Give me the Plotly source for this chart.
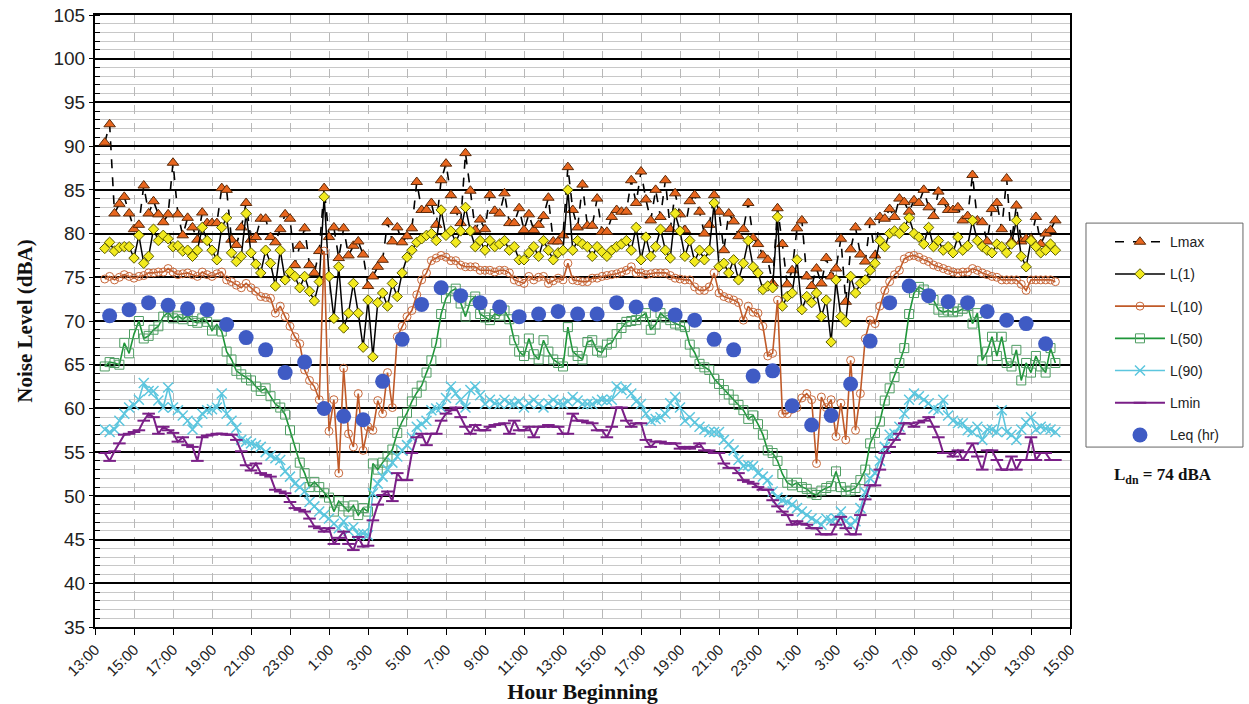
import plotly.graph_objects as go

# ---------------- data ----------------
# time axis: hours after 13:00 of the first day, 15-minute readings
FIRST_READING_H = 0.5
STEP_H = 0.25
LEQ_FIRST_H = 0.75

tick_labels = ["13:00", "15:00", "17:00", "19:00", "21:00", "23:00", "1:00", "3:00",
               "5:00", "7:00", "9:00", "11:00", "13:00", "15:00", "17:00", "19:00",
               "21:00", "23:00", "1:00", "3:00", "5:00", "7:00", "9:00", "11:00",
               "13:00", "15:00"]

lmax = [90.4, 92.5,
        82.3, 83.4, 84.2, 82.3, 80.5, 81.0, 85.5, 82.3, 83.7, 82.2, 81.3, 82.2,
        88.1, 82.2, 79.8, 81.8, 80.7, 79.3, 82.4, 81.2, 81.2, 81.2, 85.2, 85.0,
        79.3, 78.7, 80.7, 83.5, 79.3, 79.6, 81.7, 81.7, 79.6, 79.0, 80.5, 82.2,
        81.7, 76.4, 78.6, 80.6, 76.4, 75.5, 78.0, 85.2, 79.6, 80.7, 77.2, 80.6,
        77.5, 78.6, 79.1, 77.6, 74.0, 75.1, 76.2, 77.0, 81.3, 79.1, 80.7, 79.0,
        79.7, 80.6, 85.9, 82.7, 82.7, 83.5, 81.0, 86.1, 88.0, 84.4, 82.6, 81.2,
        89.2, 84.9, 80.4, 81.6, 80.5, 84.4, 82.6, 82.3, 84.6, 81.2, 81.2, 82.9,
        80.4, 82.2, 80.4, 81.0, 82.0, 84.1, 79.1, 79.1, 79.8, 87.6, 82.7, 80.7,
        85.6, 80.9, 80.9, 84.0, 80.2, 80.2, 81.9, 82.7, 82.5, 82.5, 86.1, 83.5,
        87.1, 83.9, 81.5, 85.0, 81.9, 86.1, 80.5, 84.6, 82.2, 80.4, 83.7, 84.4,
        82.5, 80.0, 81.0, 84.4, 82.5, 78.1, 82.3, 81.4, 79.7, 80.5, 83.5, 79.5,
        78.8, 77.5, 77.0, 74.3, 82.9, 78.8, 74.2, 75.8, 80.6, 81.5, 75.1, 74.0,
        76.0, 74.3, 77.2, 75.1, 76.0, 79.4, 72.2, 78.2, 80.7, 77.6, 76.8, 81.3,
        77.5, 81.9, 81.7, 82.8, 81.9, 84.0, 83.6, 82.5, 83.8, 83.5, 85.0, 83.0,
        82.0, 84.8, 83.6, 82.7, 82.7, 83.0, 81.5, 82.0, 86.7, 81.5, 81.3, 79.1,
        82.8, 83.5, 80.5, 86.3, 79.1, 83.2, 79.1, 79.4, 79.4, 81.9, 78.8, 80.0,
        80.4, 81.5]

l1 = [78.3, 79.0,
      78.0, 78.4, 78.5, 78.5, 77.2, 79.8, 76.6, 77.4, 80.5, 79.2, 79.8, 79.4,
      78.5, 78.6, 78.0, 78.1, 77.4, 78.1, 80.7, 79.2, 78.1, 77.0, 80.7, 81.8,
      77.8, 76.8, 77.4, 82.3, 77.8, 76.5, 75.5, 78.1, 76.6, 74.0, 78.1, 74.7,
      75.6, 75.1, 73.8, 75.1, 73.4, 72.3, 74.5, 84.2, 75.1, 70.3, 76.2, 69.2,
      70.9, 74.3, 70.9, 67.0, 72.4, 65.9, 72.1, 73.2, 71.7, 74.3, 72.8, 75.5,
      77.3, 78.1, 79.0, 79.4, 79.8, 80.0, 79.2, 82.7, 79.8, 80.3, 79.0, 80.3,
      83.0, 80.3, 78.5, 79.2, 78.1, 79.2, 78.5, 78.8, 79.2, 78.1, 78.5, 77.0,
      77.0, 77.8, 78.5, 77.4, 79.2, 78.1, 77.0, 77.8, 78.1, 85.0, 78.1, 79.2,
      78.8, 78.5, 77.4, 78.5, 77.9, 77.4, 78.1, 78.5, 78.8, 79.2, 78.1, 80.7,
      77.0, 79.6, 77.4, 78.5, 80.5, 78.1, 77.2, 82.3, 80.3, 77.4, 79.2, 76.8,
      78.1, 77.0, 78.1, 83.5, 76.2, 76.6, 75.5, 77.0, 74.7, 76.6, 79.2, 76.2,
      75.5, 73.6, 74.0, 73.8, 81.9, 71.7, 72.8, 73.2, 77.0, 71.3, 72.8, 72.1,
      73.2, 70.5, 72.4, 67.6, 74.7, 70.5, 69.9, 75.1, 73.2, 74.3, 74.7, 75.8,
      76.6, 79.2, 78.5, 80.0, 80.3, 80.0, 80.7, 81.8, 80.0, 79.6, 78.8, 80.7,
      78.5, 79.2, 78.1, 78.5, 77.8, 79.6, 78.1, 78.6, 81.5, 79.2, 78.5, 78.1,
      77.8, 78.8, 78.5, 77.8, 78.8, 81.5, 77.4, 76.2, 79.2, 78.5, 77.8, 78.1,
      78.8, 78.1]

l10 = [74.8, 75.1,
       74.7, 75.0, 75.3, 75.1, 74.9, 75.1, 75.2, 75.5, 75.5, 75.6, 75.6, 76.0,
       75.6, 75.3, 75.4, 75.5, 75.3, 75.1, 75.6, 75.3, 75.1, 75.4, 75.6, 74.7,
       74.5, 74.1, 73.8, 74.3, 73.8, 73.4, 72.8, 72.7, 72.6, 70.9, 71.7, 70.5,
       69.4, 68.2, 67.4, 64.4, 63.2, 62.5, 61.0, 78.0, 57.4, 61.0, 52.6, 64.6,
       57.1, 55.6, 61.7, 55.2, 57.9, 57.5, 60.9, 59.4, 64.1, 60.1, 68.2, 69.4,
       70.5, 71.2, 73.0, 74.7, 75.5, 76.9, 77.2, 77.5, 77.3, 76.9, 76.9, 76.4,
       76.2, 76.2, 76.2, 75.8, 75.8, 75.8, 75.6, 75.8, 75.8, 75.5, 74.7, 74.5,
       74.3, 75.1, 74.7, 75.0, 75.1, 74.3, 74.6, 74.9, 74.7, 76.6, 74.7, 74.6,
       74.5, 74.5, 74.9, 74.9, 75.1, 75.2, 75.3, 75.4, 75.6, 75.8, 76.2, 75.5,
       75.5, 75.3, 75.4, 75.5, 75.5, 75.5, 75.2, 74.9, 74.8, 74.7, 74.7, 73.9,
       73.5, 73.5, 73.9, 75.5, 73.2, 72.8, 72.6, 72.4, 72.1, 70.1, 71.7, 71.0,
       70.9, 69.4, 66.0, 66.3, 72.4, 59.4, 59.4, 59.9, 60.1, 61.2, 61.7, 61.0,
       53.7, 61.3, 60.1, 61.0, 56.8, 60.6, 56.4, 65.5, 57.5, 61.7, 68.0, 70.1,
       69.7, 71.7, 73.5, 74.5, 75.3, 75.8, 77.1, 77.4, 77.5, 77.3, 77.0, 76.8,
       76.4, 76.2, 76.0, 75.8, 75.6, 75.5, 75.6, 75.6, 76.0, 75.8, 75.5, 75.3,
       75.1, 75.0, 74.7, 74.7, 74.7, 74.7, 74.2, 73.5, 74.7, 74.7, 74.7, 74.7,
       74.7, 74.5]

l50 = [64.8, 65.3,
       65.2, 65.0, 67.5, 66.3, 68.5, 70.0, 68.0, 68.3, 69.0, 69.4, 70.5, 71.0,
       70.3, 70.6, 70.2, 70.6, 70.0, 69.8, 70.3, 69.9, 68.9, 69.6, 68.8, 66.5,
       65.6, 64.3, 63.9, 63.5, 63.2, 62.5, 62.0, 62.3, 61.4, 60.5, 60.1, 59.3,
       57.5, 55.5, 53.8, 52.6, 51.0, 51.6, 51.0, 50.3, 49.8, 48.2, 49.4, 48.8,
       48.2, 48.9, 47.8, 48.6, 48.2, 53.7, 53.0, 53.8, 54.5, 55.3, 57.2, 58.5,
       59.5, 60.8, 61.8, 62.6, 64.1, 65.5, 67.5, 70.8, 72.6, 73.4, 73.7, 72.0,
       70.5, 72.3, 72.8, 70.8, 70.4, 70.1, 70.8, 70.6, 71.2, 70.2, 67.8, 66.5,
       66.0, 68.0, 66.2, 65.6, 67.8, 66.5, 65.6, 65.2, 64.8, 69.3, 66.5, 66.0,
       65.6, 67.6, 67.8, 66.6, 66.4, 67.3, 67.5, 68.5, 69.2, 69.9, 70.0, 70.1,
       70.5, 70.9, 69.0, 69.6, 70.9, 70.4, 70.1, 69.7, 69.5, 69.3, 67.3, 66.4,
       65.1, 64.7, 64.4, 63.4, 62.8, 62.1, 61.6, 61.0, 60.4, 59.8, 58.8, 59.2,
       58.2, 57.0, 55.2, 54.9, 54.0, 52.5, 51.5, 51.2, 51.5, 51.0, 50.8, 50.3,
       50.1, 50.6, 50.9, 51.1, 52.8, 51.0, 50.5, 50.6, 50.9, 51.8, 53.0, 56.0,
       57.2, 58.5, 60.9, 62.3, 63.6, 65.2, 66.9, 70.8, 73.2, 73.9, 73.6, 73.0,
       72.4, 71.3, 71.0, 71.2, 71.0, 71.1, 71.4, 71.7, 69.7, 70.9, 65.5, 66.5,
       68.2, 66.0, 68.2, 65.2, 64.8, 66.7, 63.2, 65.2, 64.1, 66.0, 64.8, 64.1,
       66.9, 65.2]

l90 = [57.6, 57.3,
       57.6, 58.6, 59.4, 60.1, 60.4, 61.0, 62.9, 62.0, 62.0, 60.9, 60.1, 62.4,
       60.1, 59.8, 59.2, 58.6, 57.6, 58.4, 59.4, 59.8, 59.9, 60.1, 61.7, 59.4,
       58.6, 57.8, 56.4, 56.2, 56.0, 55.8, 55.6, 55.0, 54.6, 54.3, 54.1, 52.8,
       52.2, 51.4, 51.0, 50.5, 49.3, 48.8, 48.2, 47.8, 47.4, 46.8, 46.3, 47.1,
       46.0, 46.4, 45.6, 45.7, 45.5, 50.3, 51.4, 52.2, 53.0, 53.8, 54.5, 55.2,
       55.8, 56.7, 57.9, 58.2, 58.6, 59.8, 60.0, 60.1, 61.2, 62.5, 61.7, 61.0,
       60.1, 62.1, 62.5, 61.5, 60.5, 61.0, 60.6, 60.5, 61.0, 60.6, 60.5, 60.8,
       60.1, 60.6, 61.0, 60.5, 60.1, 60.6, 61.0, 60.6, 60.5, 60.8, 61.3, 60.9,
       60.5, 60.5, 60.5, 60.8, 61.0, 60.9, 61.0, 62.5, 62.1, 62.3, 61.7, 60.8,
       60.5, 59.4, 58.6, 58.8, 59.0, 59.4, 60.6, 61.3, 60.1, 58.6, 59.0, 58.4,
       57.9, 57.6, 57.3, 57.3, 57.3, 56.4, 55.9, 55.2, 54.1, 53.4, 53.5, 53.4,
       52.6, 52.2, 51.8, 50.5, 49.8, 49.5, 49.3, 49.0, 48.6, 48.2, 47.8, 47.4,
       47.1, 46.7, 47.4, 47.2, 47.4, 48.2, 47.1, 46.7, 47.1, 48.6, 50.4, 52.0,
       52.6, 54.0, 55.6, 57.0, 57.1, 57.9, 59.4, 61.0, 61.7, 61.4, 61.0, 60.6,
       60.0, 59.8, 61.0, 59.2, 58.6, 58.3, 58.3, 57.5, 57.3, 57.9, 56.4, 57.6,
       57.6, 57.3, 59.8, 57.3, 57.0, 56.4, 57.6, 58.4, 59.0, 57.6, 57.9, 57.7,
       57.6, 57.3]

lmin = [54.9, 54.0,
        55.1, 56.0, 57.0, 57.1, 57.3, 57.5, 58.6, 59.4, 59.0, 57.1, 57.9, 57.5,
        57.2, 56.2, 56.7, 55.8, 55.6, 54.0, 56.7, 56.9, 57.0, 57.1, 57.1, 57.0,
        57.0, 56.4, 55.1, 53.5, 52.9, 53.7, 52.6, 52.4, 52.2, 50.7, 50.5, 50.3,
        49.3, 48.6, 48.4, 48.2, 47.4, 46.5, 46.3, 45.9, 46.3, 44.5, 45.2, 45.9,
        44.5, 43.8, 45.3, 44.2, 44.3, 47.2, 49.0, 50.1, 50.5, 49.4, 52.6, 51.8,
        51.8, 54.9, 56.7, 57.1, 55.8, 57.1, 57.1, 58.6, 59.4, 59.8, 60.1, 59.0,
        57.9, 57.1, 58.1, 57.5, 57.5, 57.9, 58.1, 58.2, 58.3, 57.1, 58.6, 57.5,
        57.5, 57.9, 56.7, 57.9, 57.9, 58.1, 57.9, 57.9, 57.1, 57.1, 59.4, 58.6,
        58.6, 58.4, 58.3, 57.5, 57.5, 56.7, 57.9, 60.1, 60.1, 58.6, 57.9, 58.3,
        58.3, 56.4, 55.6, 56.2, 56.2, 56.0, 56.0, 56.0, 55.4, 55.6, 55.4, 55.6,
        56.0, 55.2, 55.2, 54.9, 54.9, 53.7, 53.2, 53.2, 52.6, 51.8, 51.6, 51.4,
        51.0, 50.7, 50.7, 49.5, 48.8, 48.2, 47.8, 46.7, 47.1, 46.8, 46.7, 46.3,
        46.3, 45.6, 45.6, 45.6, 46.7, 47.6, 46.3, 45.6, 45.6, 47.8, 49.6, 51.2,
        51.2, 53.0, 54.9, 55.6, 56.4, 57.1, 58.3, 58.3, 57.9, 58.4, 58.6, 59.0,
        57.9, 56.7, 54.9, 54.9, 54.5, 55.2, 54.1, 55.0, 56.0, 54.5, 53.0, 55.2,
        55.2, 54.1, 53.0, 53.0, 54.5, 53.0, 54.1, 54.1, 56.7, 54.1, 54.9, 54.9,
        54.1, 54.1]

leq_hr = [70.6, 71.3, 72.1, 71.8, 71.4, 71.3, 69.6, 68.1, 66.7, 64.1,
          65.3, 60.0, 59.1, 58.7, 63.1, 67.9, 71.9, 73.8, 72.9, 72.1,
          71.6, 70.5, 70.8, 71.1, 70.8, 70.8, 72.1, 71.6, 71.9, 70.7,
          70.1, 67.9, 66.7, 63.7, 64.3, 60.3, 58.1, 59.2, 62.8, 67.7,
          72.1, 74.0, 72.9, 72.2, 72.1, 71.1, 70.1, 69.7, 67.4]

ldn_text = "<b>L<sub>dn</sub> = 74 dBA</b>"

# ---------------- figure ----------------
times = [FIRST_READING_H + STEP_H * i for i in range(len(lmax))]
leq_times = [LEQ_FIRST_H + i for i in range(len(leq_hr))]
tick_vals = [2 * i for i in range(len(tick_labels))]

fig = go.Figure()

series = [
    dict(name="Lmax", y=lmax, line=dict(color="black", width=1.6, dash="dash"),
         marker=dict(symbol="triangle-up", size=10, color="#E8661E",
                     line=dict(color="#5a2a0a", width=1))),
    dict(name="L(1)", y=l1, line=dict(color="black", width=1.5),
         marker=dict(symbol="diamond", size=8, color="#F2EA1E",
                     line=dict(color="#5a5a00", width=1))),
    dict(name="L(10)", y=l10, line=dict(color="#C05A28", width=1.6),
         marker=dict(symbol="circle-open", size=8, color="#C8683A",
                     line=dict(width=1))),
    dict(name="L(50)", y=l50, line=dict(color="#1E9639", width=1.6),
         marker=dict(symbol="square-open", size=9, color="#4E9D62",
                     line=dict(width=1))),
    dict(name="L(90)", y=l90, line=dict(color="#5CC6DE", width=1.6),
         marker=dict(symbol="x-thin-open", size=10, color="#5CC6DE",
                     line=dict(width=1.5))),
    dict(name="Lmin", y=lmin, line=dict(color="#7A1F87", width=2),
         marker=dict(symbol="line-ew-open", size=9, color="#7A1F87",
                     line=dict(width=2))),
]

for s in series:
    fig.add_trace(go.Scatter(x=times, y=s["y"], name=s["name"], mode="lines+markers",
                             line=s["line"], marker=s["marker"],
                             legendgroup=s["name"]))

fig.add_trace(go.Scatter(x=leq_times, y=leq_hr, name="Leq (hr)", mode="markers",
                         marker=dict(symbol="circle", size=15, color="#3F5BC4"),
                         legendgroup="Leq (hr)"))

fig.update_layout(
    width=1249, height=704,
    margin=dict(l=95, r=179, t=15, b=77, autoexpand=False),
    paper_bgcolor="white", plot_bgcolor="white",
    font=dict(family="Liberation Sans, Arial, sans-serif", color="#222"),
    legend=dict(x=1.041, y=0.655, xanchor="left", yanchor="top",
                borderwidth=0, bgcolor="rgba(0,0,0,0)",
                font=dict(size=14, color="#222"),
                tracegroupgap=11, traceorder="grouped", itemwidth=50),
    shapes=[dict(type="rect", xref="paper", yref="paper",
                 x0=1.0164, x1=1.1774, y0=0.294, y1=0.660,
                 line=dict(color="#666", width=1), fillcolor="rgba(0,0,0,0)",
                 layer="below")],
    annotations=[dict(text=ldn_text, xref="paper", yref="paper", x=1.095, y=0.247,
                      showarrow=False, xanchor="center", yanchor="middle",
                      font=dict(family="Liberation Serif, Times New Roman, serif",
                                size=17, color="#111"))],
)

fig.update_xaxes(
    automargin=False,
    range=[0, 50], tickmode="array", tickvals=tick_vals, ticktext=tick_labels,
    tickangle=-45, tickfont=dict(size=15, color="#222"),
    showgrid=True, gridcolor="#b8b8b8", gridwidth=1, griddash="dash",
    showline=True, linecolor="black", linewidth=2, mirror=True,
    ticks="outside", ticklen=6, tickcolor="black", zeroline=False,
    title=dict(text="<b>Hour Beginning</b>", standoff=6,
               font=dict(family="Liberation Serif, Times New Roman, serif",
                         size=22, color="#111")),
)

fig.update_yaxes(
    automargin=False,
    range=[35, 105], tick0=35, dtick=5, tickfont=dict(size=19, color="#222"),
    showgrid=True, gridcolor="black", gridwidth=2,
    minor=dict(dtick=1, showgrid=True, gridcolor="#c8c8c8", gridwidth=1,
               ticks="inside", ticklen=5, tickcolor="black"),
    showline=True, linecolor="black", linewidth=2, mirror=True,
    ticks="outside", ticklen=4, tickcolor="black", zeroline=False,
    title=dict(text="<b>Noise Level (dBA)</b>", standoff=15,
               font=dict(family="Liberation Serif, Times New Roman, serif",
                         size=21, color="#111")),
)

fig.write_html("out.html")
